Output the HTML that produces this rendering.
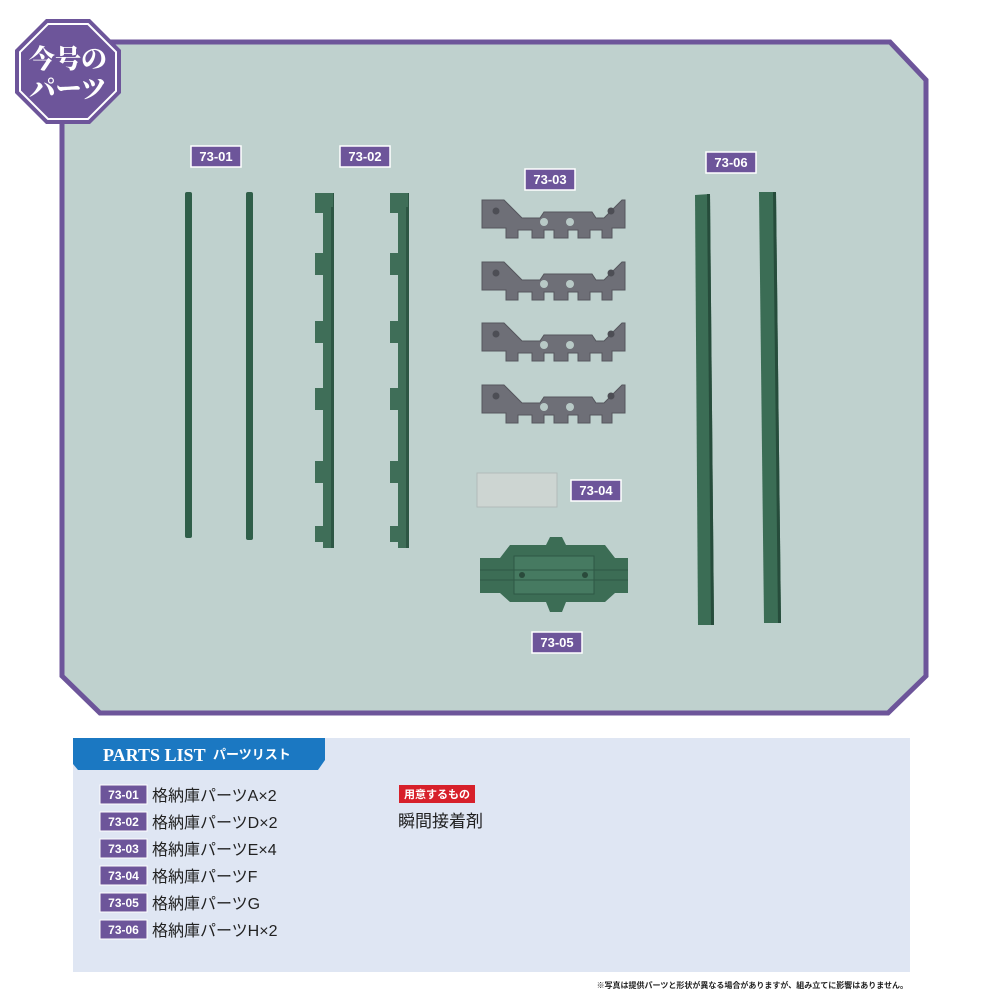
<!DOCTYPE html>
<html><head><meta charset="utf-8"><style>
html,body{margin:0;padding:0;background:#fff;}
svg{display:block}
text{font-family:"Liberation Sans","Noto Sans CJK JP",sans-serif;}
</style></head><body>
<svg width="985" height="1000" viewBox="0 0 985 1000" xmlns="http://www.w3.org/2000/svg">
<defs>
<g id="plate">
<path d="M0,2 L22,2 L40,20 L58,20 L62,14 L110,14 L114,20 L122,20 L140,2 L143,2 L143,30 L130,30 L130,40 L120,40 L120,32 L108,32 L108,40 L96,40 L96,32 L86,32 L86,40 L72,40 L72,32 L62,32 L62,40 L50,40 L50,32 L36,32 L36,40 L24,40 L24,30 L0,30 Z" fill="#6e6f77" stroke="#55565d" stroke-width="1"/>
<circle cx="14" cy="13" r="3.5" fill="#4d4e55"/><circle cx="129" cy="13" r="3.5" fill="#4d4e55"/>
<circle cx="62" cy="24" r="4" fill="#b8c9c6"/><circle cx="88" cy="24" r="4" fill="#b8c9c6"/>
</g>
<g id="rail2">
<rect x="8" y="0" width="10" height="355" fill="#3f6e58"/>
<rect x="16" y="0" width="3" height="355" fill="#2d5644"/>
<path d="M0,0 L18,0 L18,14 L8,14 L8,20 L0,20 Z" fill="#3f6e58"/>
<rect x="0" y="60" width="9" height="22" fill="#3f6e58"/>
<rect x="0" y="128" width="9" height="22" fill="#3f6e58"/>
<rect x="0" y="195" width="9" height="22" fill="#3f6e58"/>
<rect x="0" y="268" width="9" height="22" fill="#3f6e58"/>
<rect x="0" y="333" width="9" height="16" fill="#3f6e58"/>
</g>
</defs>
<!-- frame -->
<path d="M62,42 L890,42 L926,80 L926,676 L888,713 L100,713 L62,676 Z" fill="#bfd1ce" stroke="#6d559a" stroke-width="5"/>
<!-- badge -->
<polygon points="46,19 90,19 121,50 121,93 90,124 46,124 15,93 15,50" fill="#6d559a"/>
<polygon points="48,24 88,24 116,52 116,91 88,119 48,119 20,91 20,52" fill="none" stroke="#fff" stroke-width="2"/>
<text x="68" y="68" font-size="26" font-weight="bold" fill="#fff" text-anchor="middle" style="font-family:'Noto Serif CJK SC','Noto Serif CJK JP',serif;font-weight:900">今号の</text>
<text x="68" y="98" font-size="26" font-weight="bold" fill="#fff" text-anchor="middle" style="font-family:'Noto Serif CJK SC','Noto Serif CJK JP',serif;font-weight:900">パーツ</text>

<!-- labels -->
<g font-size="13" font-weight="bold" fill="#fff" text-anchor="middle">
<rect x="191" y="146" width="50" height="21" fill="#6d559a" stroke="#fff" stroke-width="1.5"/><text x="216" y="161">73-01</text>
<rect x="340" y="146" width="50" height="21" fill="#6d559a" stroke="#fff" stroke-width="1.5"/><text x="365" y="161">73-02</text>
<rect x="525" y="169" width="50" height="21" fill="#6d559a" stroke="#fff" stroke-width="1.5"/><text x="550" y="184">73-03</text>
<rect x="706" y="152" width="50" height="21" fill="#6d559a" stroke="#fff" stroke-width="1.5"/><text x="731" y="167">73-06</text>
<rect x="571" y="480" width="50" height="21" fill="#6d559a" stroke="#fff" stroke-width="1.5"/><text x="596" y="495">73-04</text>
<rect x="532" y="632" width="50" height="21" fill="#6d559a" stroke="#fff" stroke-width="1.5"/><text x="557" y="647">73-05</text>
</g>

<!-- 73-01 -->
<rect x="185" y="192" width="7" height="346" rx="2" fill="#2f5e49"/>
<rect x="246" y="192" width="7" height="348" rx="2" fill="#2f5e49"/>
<!-- 73-02 -->
<use href="#rail2" x="315" y="193"/>
<use href="#rail2" x="390" y="193"/>
<!-- 73-03 -->
<use href="#plate" x="482" y="198"/>
<use href="#plate" x="482" y="260"/>
<use href="#plate" x="482" y="321"/>
<use href="#plate" x="482" y="383"/>
<!-- 73-04 -->
<rect x="477" y="473" width="80" height="34" fill="#cdd5d2" stroke="#b2bcb9"/>
<!-- 73-05 -->
<path d="M550,537 L562,537 L566,545 L605,545 L615,558 L628,558 L628,593 L615,593 L605,602 L566,602 L562,612 L550,612 L546,602 L510,602 L500,593 L480,593 L480,558 L500,558 L510,545 L546,545 Z" fill="#3c6d55"/>
<rect x="514" y="556" width="80" height="38" fill="#467a61" stroke="#2e5845"/>
<line x1="480" y1="570" x2="628" y2="570" stroke="#2e5845"/>
<line x1="480" y1="580" x2="628" y2="580" stroke="#2e5845"/>
<circle cx="522" cy="575" r="3" fill="#2a4a3b"/><circle cx="585" cy="575" r="3" fill="#2a4a3b"/>
<!-- 73-06 -->
<polygon points="695,195 710,194 714,625 698,625" fill="#3b6d55"/>
<polygon points="759,192 776,192 781,623 764,623" fill="#3b6d55"/>
<polygon points="707,194 710,194 714,625 711,625" fill="#264c3b"/>
<polygon points="773,192 776,192 781,623 778,623" fill="#264c3b"/>

<!-- parts list -->
<rect x="73" y="738" width="837" height="234" fill="#dfe6f3"/>
<path d="M73,738 L325,738 L325,760 L318,770 L78,770 L73,764 Z" fill="#1b78c2"/>
<text x="103" y="761" font-size="18" font-weight="bold" fill="#fff" style="font-family:'Liberation Serif',serif">PARTS LIST</text>
<text x="213" y="759" font-size="13" font-weight="bold" fill="#fff">パーツリスト</text>
<g font-size="16" fill="#222">
<g font-size="12" font-weight="bold" fill="#fff" text-anchor="middle">
<rect x="100" y="785" width="47" height="19" fill="#6d559a" stroke="#fff"/><text x="123.5" y="799">73-01</text>
<rect x="100" y="812" width="47" height="19" fill="#6d559a" stroke="#fff"/><text x="123.5" y="826">73-02</text>
<rect x="100" y="839" width="47" height="19" fill="#6d559a" stroke="#fff"/><text x="123.5" y="853">73-03</text>
<rect x="100" y="866" width="47" height="19" fill="#6d559a" stroke="#fff"/><text x="123.5" y="880">73-04</text>
<rect x="100" y="893" width="47" height="19" fill="#6d559a" stroke="#fff"/><text x="123.5" y="907">73-05</text>
<rect x="100" y="920" width="47" height="19" fill="#6d559a" stroke="#fff"/><text x="123.5" y="934">73-06</text>
</g>
<text x="152" y="801">格納庫パーツA×2</text>
<text x="152" y="828">格納庫パーツD×2</text>
<text x="152" y="855">格納庫パーツE×4</text>
<text x="152" y="882">格納庫パーツF</text>
<text x="152" y="909">格納庫パーツG</text>
<text x="152" y="936">格納庫パーツH×2</text>
<rect x="399" y="785" width="76" height="18" fill="#d7202a"/>
<text x="437" y="798" font-size="11" font-weight="bold" fill="#fff" text-anchor="middle">用意するもの</text>
<text x="398" y="827" font-size="17">瞬間接着剤</text>
</g>
<text x="908" y="988" font-size="8" font-weight="bold" fill="#222" text-anchor="end">※写真は提供パーツと形状が異なる場合がありますが、組み立てに影響はありません。</text>
</svg>
</body></html>
